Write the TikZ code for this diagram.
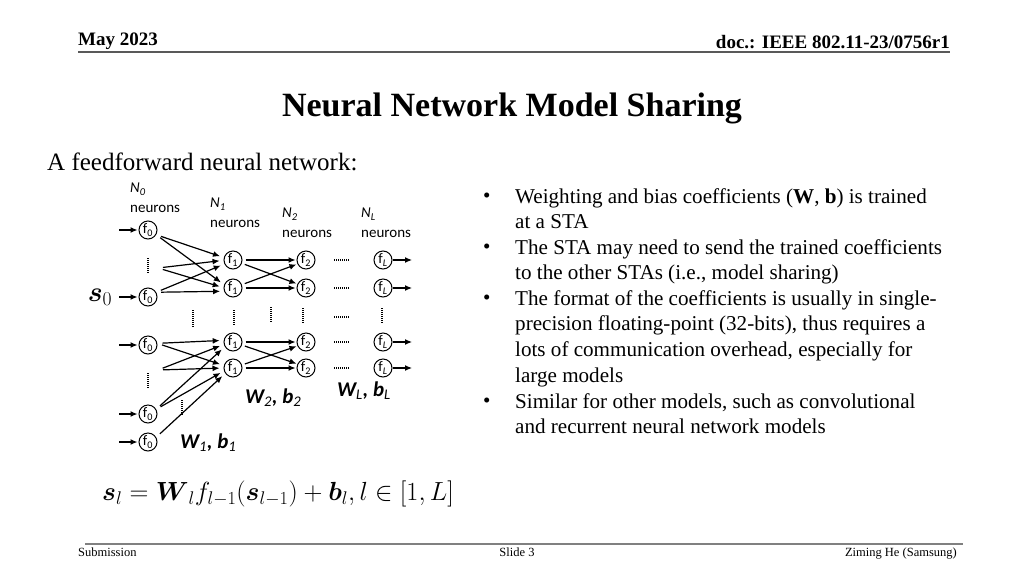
\documentclass[tikz,border=0pt]{standalone}
\usepackage{fix-cm}
\usepackage{amsmath}
\usepackage{fontspec}
\setmainfont{Liberation Serif}
\newfontfamily\calfont{Carlito}
\usetikzlibrary{arrows.meta,positioning}

\tikzset{
	neuron/.style={circle, draw, line width=1pt, minimum size=18pt, inner sep=0pt, font=\calfont\fontsize{14.5}{14.5}\selectfont},
	link/.style={line width=1.2pt, -{Latex[length=7pt,width=6pt]}, shorten <=5pt, shorten >=4pt},
	vdots/.style={line width=1.3pt, dash pattern=on 1pt off 1pt},
	neurlbl/.style={anchor=north west, inner sep=0pt, align=left, font=\calfont\fontsize{15}{20}\selectfont},
	wblbl/.style={anchor=base west, inner sep=0pt, font=\calfont\fontsize{21}{21}\selectfont\bfseries\itshape},
	bullettxt/.style={inner sep=0pt, align=left, font=\fontsize{21.1}{25.7}\selectfont},
	hdr/.style={inner sep=0pt, font=\fontsize{19}{19}\selectfont\bfseries},
	ftr/.style={inner sep=0pt, font=\fontsize{12.5}{12.5}\selectfont},
}

\begin{document}
\begin{tikzpicture}[x=1pt, y=-1pt]
		\useasboundingbox (0,0) rectangle (1024,576);

		% header and footer
		\node[hdr, anchor=base west] (date) at (78,45) {May 2023};
		\node[hdr, anchor=base east] (docid) at (950,48) {doc.: IEEE 802.11-23/0756r1};
		\draw[line width=1.5pt, black!65] (78,52) -- (950,52);
		\draw[line width=1.5pt, black!50] (85,544) -- (963,544);
		\node[ftr, anchor=base west] (subm) at (78,556) {Submission};
		\node[ftr, anchor=base] (slide) at (517,556) {Slide 3};
		\node[ftr, anchor=base east] (author) at (957,556) {Ziming He (Samsung)};

		\node[inner sep=0pt, anchor=base, font=\fontsize{34}{34}\selectfont\bfseries] (title) at (512,116) {Neural Network Model Sharing};
		\node[inner sep=0pt, anchor=base west, font=\fontsize{25}{25}\selectfont] (intro) at (47,170) {A feedforward neural network:};

		% bullets
		\foreach \y/\txt in {188/{Weighting and bias coefficients (\textbf{W}, \textbf{b}) is trained\\at a STA},
				239/{The STA may need to send the trained coefficients\\to the other STAs (i.e., model sharing)},
				290/{The format of the coefficients is usually in single-\\precision floating-point (32-bits), thus requires a\\lots of communication overhead, especially for\\large models},
				393/{Similar for other models, such as convolutional\\and recurrent neural network models}} {
			\node[bullettxt, anchor=north west] at (515,\y) {\txt};
			\node[bullettxt, anchor=base west] at (483,\y+14.5) {\textbullet};
		}

		% network
		\node[neurlbl] (lbl0) at (130,183) {\textit{N}\textsubscript{\textit{0}}\\neurons};
		\node[neurlbl] (lbl1) at (210,198) {\textit{N}\textsubscript{\textit{1}}\\neurons};
		\node[neurlbl] (lbl2) at (282,208) {\textit{N}\textsubscript{\textit{2}}\\neurons};
		\node[neurlbl] (lblL) at (361,208) {\textit{N}\textsubscript{\textit{L}}\\neurons};

		\foreach \n/\y in {a/230, b/297, c/345, d/414, e/442} {
			\node[neuron] (f0\n) at (148,\y) {f\textsubscript{0}};
			\coordinate (in\n) at (114,\y);
			\draw[link, shorten >=1pt] (in\n) -- (f0\n);
		}
		\foreach \n/\y in {a/260, b/288, c/342, d/368} {
			\node[neuron] (f1\n) at (233,\y) {f\textsubscript{1}};
			\node[neuron] (f2\n) at (306,\y) {f\textsubscript{2}};
			\node[neuron] (fL\n) at (383,\y) {f\textsubscript{\textit{L}}};
			\coordinate (out\n) at (412,\y);
			\draw[link, shorten <=0pt, shorten >=0pt] (fL\n) -- (out\n);
			\draw[vdots] (334,\y) -- (350,\y);
		}
		\coordinate (h0a) at (158,268);
		\coordinate (h0b) at (158,370);

		\foreach \s/\t in {f0a.-30/f1a.165, f0a.-30/f1b.160, h0a/f1a.182, h0a/f1b.178, f0b.30/f1a.205, f0b.30/f1b.200,
				f0c.10/f1c.170, f0c.10/f1d.165, h0b/f1c.195, h0b/f1d.180, f0d.30/f1c.210, f0d.30/f1d.198, f0e.30/f1d.215}
			\draw[link] (\s) -- (\t);
		\foreach \s/\t in {f1a/f2a.west, f1a/f2b.155, f1b/f2a.205, f1b/f2b.west,
				f1c/f2c.west, f1c/f2d.155, f1d/f2c.205, f1d/f2d.west}
			\draw[link, shorten <=3pt, shorten >=1pt] (\s) -- (\t);

		\draw[vdots] (148,258) -- (148,274);
		\draw[vdots] (148,373) -- (148,389);
		\draw[vdots] (193,310) -- (193,327);
		\draw[vdots] (234,310) -- (234,326);
		\draw[vdots] (271,307) -- (271,322);
		\draw[vdots] (303,308) -- (303,324);
		\draw[vdots] (382,308) -- (382,324);
		\draw[vdots] (182,400) -- (182,415);
		\draw[vdots] (334,317) -- (350,317);

		\node[wblbl] (wb1) at (180,448) {W\textsubscript{\mdseries 1}, b\textsubscript{\mdseries 1}};
		\node[wblbl] (wb2) at (245,403) {W\textsubscript{\mdseries 2}, b\textsubscript{\mdseries 2}};
		\node[wblbl] (wbL) at (337,396) {W\textsubscript{\mdseries L}, b\textsubscript{\mdseries L}};

		\node[inner sep=0pt, font=\fontsize{28}{28}\selectfont] (s0) at (100,297) {$\boldsymbol{s}_0$};
		\node[inner sep=0pt, anchor=west, font=\fontsize{26.2}{26.2}\selectfont] (eq) at (102,494)
			{$\boldsymbol{s}_l = \boldsymbol{W}_l f_{l-1}(\boldsymbol{s}_{l-1}) + \boldsymbol{b}_l, l \in [1, L]$};
	\end{tikzpicture}
\end{document}
